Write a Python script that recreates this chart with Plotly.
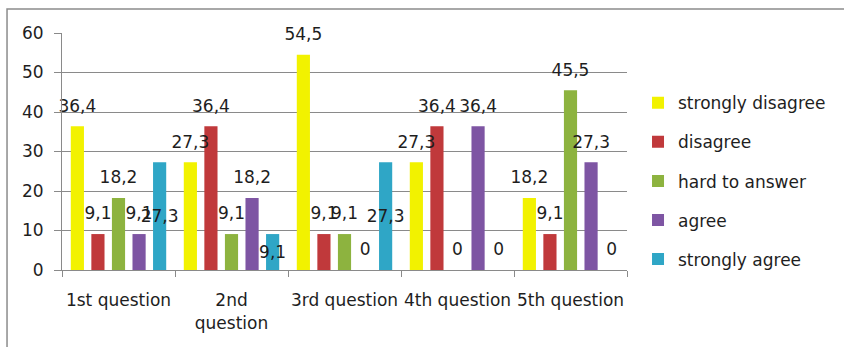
import plotly.graph_objects as go

categories = ["1st question", "2nd<br>question", "3rd question", "4th question", "5th question"]
series_names = ["strongly disagree", "disagree", "hard to answer", "agree", "strongly agree"]
strongly_disagree = [36.4, 27.3, 54.5, 27.3, 18.2]
disagree = [9.1, 36.4, 9.1, 36.4, 9.1]
hard_to_answer = [18.2, 9.1, 9.1, 0.0, 45.5]
agree = [9.1, 18.2, 0.0, 36.4, 27.3]
strongly_agree = [27.3, 9.1, 27.3, 0.0, 0.0]
colors = ["#F2F200", "#C0393B", "#8DB33F", "#7E55A3", "#2FA6C6"]

all_values = [strongly_disagree, disagree, hard_to_answer, agree, strongly_agree]
# the last series has its (non-zero) labels drawn in the middle of the bars
center_label_series = 4


def fmt(v):
    return f"{v:g}".replace(".", ",")


FONT = "DejaVu Sans"
FS = 17
TXT = "#1e1e1e"
GRID = "#8a8a8a"

fig = go.Figure()

for i, (name, vals) in enumerate(zip(series_names, all_values)):
    bar_text = None
    if i == center_label_series:
        bar_text = [fmt(v) if v != 0 else "" for v in vals]
    fig.add_trace(go.Bar(
        name=name, x=categories, y=vals,
        marker=dict(color=colors[i], line=dict(width=0)),
        legendgroup=name,
        text=bar_text,
        textposition="inside" if bar_text else "none",
        insidetextanchor="middle",
        textangle=0,
        constraintext="none",
        insidetextfont=dict(family=FONT, size=FS, color=TXT),
        hoverinfo="skip",
    ))

for i, (name, vals) in enumerate(zip(series_names, all_values)):
    if i == center_label_series:
        labels = [fmt(v) if v == 0 else "" for v in vals]
    else:
        labels = [fmt(v) for v in vals]
    fig.add_trace(go.Scatter(
        x=categories, y=vals, mode="markers+text",
        text=labels, textposition="top center",
        textfont=dict(family=FONT, size=FS, color=TXT),
        marker=dict(size=15, color="rgba(0,0,0,0)"),
        showlegend=False, hoverinfo="skip", cliponaxis=False,
    ))

bargap = 0.09
fig.update_layout(
    width=844, height=347,
    margin=dict(l=62, r=217, t=33, b=77),
    paper_bgcolor="white", plot_bgcolor="white",
    font=dict(family=FONT, size=FS, color=TXT),
    barmode="group", bargap=bargap, bargroupgap=0.36,
    scattermode="group", scattergap=bargap,
    legend=dict(
        x=1.0195, xanchor="left", y=0.78, yanchor="top",
        traceorder="grouped", tracegroupgap=14,
        font=dict(family=FONT, size=FS, color=TXT),
        bgcolor="rgba(0,0,0,0)", itemclick=False,
    ),
    showlegend=True,
)
fig.update_yaxes(
    range=[0, 60], dtick=10, showgrid=True, gridcolor=GRID, gridwidth=1,
    showline=True, linecolor=GRID, linewidth=1,
    ticks="outside", ticklen=7, tickcolor=GRID,
    ticklabelstandoff=7, zeroline=False, fixedrange=True,
)
fig.update_xaxes(
    showline=True, linecolor=GRID, linewidth=1,
    ticks="outside", ticklen=6, tickcolor=GRID, tickson="boundaries",
    ticklabelstandoff=15, fixedrange=True, tickangle=0,
)
# outer chart frame
fig.add_shape(type="rect", xref="paper", yref="paper",
              x0=-0.0973, x1=1.4, y0=-0.35, y1=1.1013,
              line=dict(color="#8c8c8c", width=1.5), layer="below")

fig.write_html("out.html")
